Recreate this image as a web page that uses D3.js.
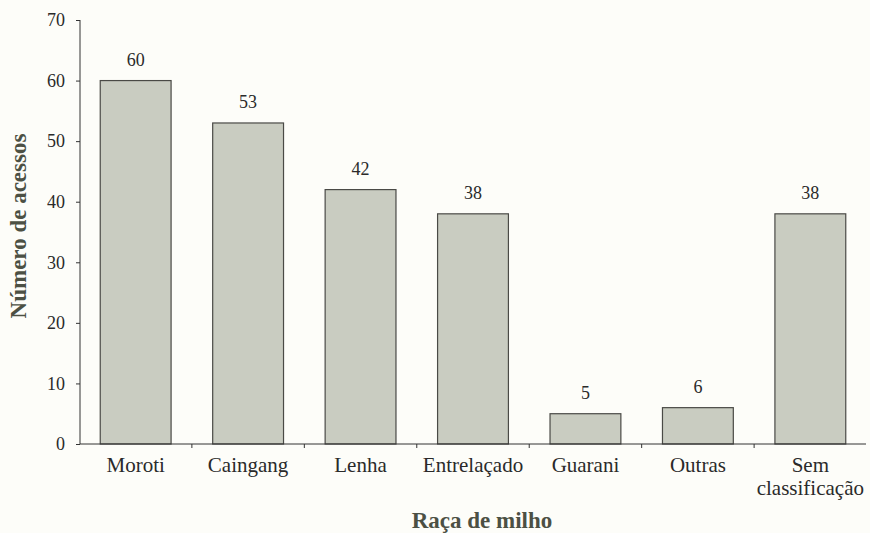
<!DOCTYPE html>
<html>
<head>
<meta charset="utf-8">
<script src="https://d3js.org/d3.v7.min.js"></script>
<style>
  body { margin: 0; background: #fdfdf9; }
  svg { display: block; }
  svg text { font-family: "Liberation Serif", "DejaVu Serif", serif; }
</style>
</head>
<body>
<div id="chart"></div>
<script>
var racas = ["Moroti", "Caingang", "Lenha", "Entrelaçado", "Guarani", "Outras", "Sem classificação"];
var acessos = [60, 53, 42, 38, 5, 6, 38];
var yTicks = [0, 10, 20, 30, 40, 50, 60, 70];

var width = 870, height = 533;
var margin = {top: 20, right: 4, bottom: 89, left: 80};
var numSize = "18px", catSize = "21px", titleSize = "23px";

var svg = d3.select("#chart").append("svg")
    .attr("width", width)
    .attr("height", height);

var x = d3.scaleBand()
    .domain(racas)
    .range([margin.left, width - margin.right])
    .paddingInner(0.37)
    .paddingOuter(0.18);

var y = d3.scaleLinear()
    .domain([0, 70])
    .range([height - margin.bottom, margin.top]);

// bars
svg.selectAll("rect.bar")
    .data(racas)
    .enter().append("rect")
    .attr("class", "bar")
    .attr("x", function(d) { return x(d); })
    .attr("y", function(d, i) { return y(acessos[i]); })
    .attr("width", x.bandwidth())
    .attr("height", function(d, i) { return y(0) - y(acessos[i]); })
    .style("fill", "#c9ccc1")
    .style("stroke", "#4a4a46")
    .style("stroke-width", 1.2);

// value labels
svg.selectAll("text.val")
    .data(racas)
    .enter().append("text")
    .attr("class", "val")
    .attr("x", function(d) { return x(d) + x.bandwidth() / 2; })
    .attr("y", function(d, i) { return y(acessos[i]) - 15; })
    .attr("text-anchor", "middle")
    .style("font-size", numSize)
    .style("fill", "#2a2a2a")
    .text(function(d, i) { return acessos[i]; });

// y axis
var yAxis = svg.append("g")
    .attr("transform", "translate(" + margin.left + ",0)")
    .call(d3.axisLeft(y).tickValues(yTicks).tickSize(4).tickPadding(11));
yAxis.attr("font-family", null).attr("font-size", null);
yAxis.selectAll("text").style("font-size", numSize).style("fill", "#2a2a2a");
yAxis.select(".domain").attr("d", "M0," + y(70) + "V" + y(0));

// x axis (ticks between categories)
var xAxis = svg.append("g")
    .attr("transform", "translate(0," + y(0) + ")");
xAxis.append("line")
    .attr("x1", margin.left).attr("x2", width - margin.right)
    .attr("y1", 0).attr("y2", 0)
    .style("stroke", "#333");
var step = x.step();
xAxis.selectAll("line.tk")
    .data(racas.slice(1))
    .enter().append("line")
    .attr("class", "tk")
    .attr("x1", function(d) { return x(d) - x.paddingInner() * step / 2; })
    .attr("x2", function(d) { return x(d) - x.paddingInner() * step / 2; })
    .attr("y1", 0).attr("y2", 4)
    .style("stroke", "#333");

var labs = xAxis.selectAll("text.cat")
    .data(racas)
    .enter().append("text")
    .attr("class", "cat")
    .attr("y", 28)
    .attr("text-anchor", "middle")
    .style("font-size", catSize)
    .style("fill", "#2a2a2a");
labs.each(function(d) {
    var parts = d === "Sem classificação" ? ["Sem", "classificação"] : [d];
    var t = d3.select(this);
    parts.forEach(function(p, j) {
        t.append("tspan")
            .attr("x", x(d) + x.bandwidth() / 2)
            .attr("dy", j === 0 ? 0 : 23)
            .text(p);
    });
});

svg.selectAll(".tick line, .domain").style("stroke", "#333");

// axis titles
svg.append("text")
    .attr("x", 482)
    .attr("y", 528)
    .attr("text-anchor", "middle")
    .style("font-size", titleSize)
    .style("font-weight", "bold")
    .style("fill", "#4c5044")
    .text("Raça de milho");

svg.append("text")
    .attr("transform", "translate(26," + 226 + ") rotate(-90)")
    .attr("text-anchor", "middle")
    .style("font-size", titleSize)
    .style("font-weight", "bold")
    .style("fill", "#4c5044")
    .text("Número de acessos");
</script>
</body>
</html>
